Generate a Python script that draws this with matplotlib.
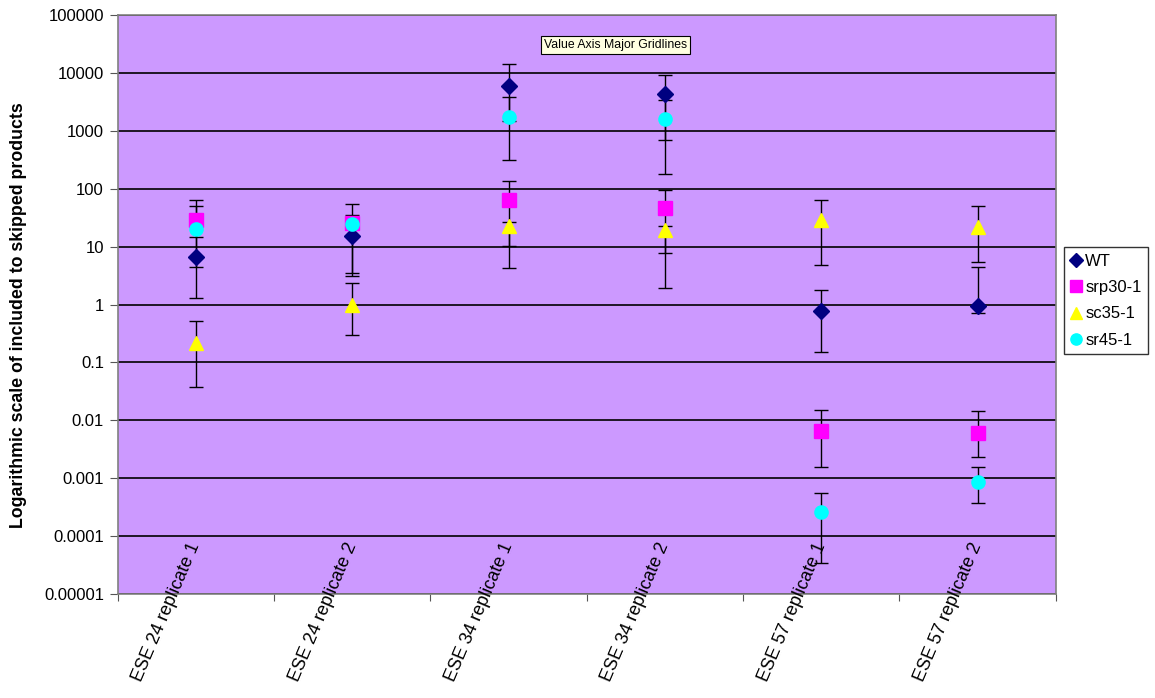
import matplotlib
matplotlib.use('Agg')
import matplotlib.pyplot as plt
import matplotlib.transforms as mtransforms
from matplotlib.lines import Line2D
import numpy as np

plt.rcParams['font.family'] = ['Liberation Sans', 'DejaVu Sans']

# categories on the x axis
categories = ['ESE 24 replicate 1', 'ESE 24 replicate 2',
              'ESE 34 replicate 1', 'ESE 34 replicate 2',
              'ESE 57 replicate 1', 'ESE 57 replicate 2']

# ratio of included to skipped products, with error bar ends (low / high)
wt = [6.5, 15.5, 6000, 4250, 0.76, 0.94]
wt_lo = [1.27, 3.5, 307, 707, 0.152, 0.70]
wt_hi = [63, 55, 14000, 9270, 1.75, 4.48]

srp30 = [29, 26, 63, 46, 0.0066, 0.0061]
srp30_lo = [4.36, 3.1, 10.2, 7.7, 0.00157, 0.00234]
srp30_hi = [50, 35, 137, 95, 0.0152, 0.0146]

sc35 = [0.22, 1.0, 22.5, 19.7, 28.6, 22]
sc35_lo = [0.037, 0.30, 4.24, 1.9, 4.85, 5.4]
sc35_hi = [0.51, 2.37, 27, 23, 63, 51]

sr45 = [20, 25, 1750, 1600, 0.00026, 0.00085]
sr45_lo = [14.9, 22, 1500, 178, 0.0000346, 0.00038]
sr45_hi = [24, 28, 3870, 3380, 0.00056, 0.00157]

y_ticks = [1e-5, 1e-4, 1e-3, 1e-2, 1e-1, 1, 10, 100, 1000, 10000, 100000]
y_tick_labels = ['0.00001', '0.0001', '0.001', '0.01', '0.1', '1', '10',
                 '100', '1000', '10000', '100000']

series = [
    ('WT', wt, wt_lo, wt_hi, 'D', '#000080', 8),
    ('srp30-1', srp30, srp30_lo, srp30_hi, 's', '#FF00FF', 10),
    ('sc35-1', sc35, sc35_lo, sc35_hi, '^', '#FFFF00', 10.5),
    ('sr45-1', sr45, sr45_lo, sr45_hi, 'o', '#00FFFF', 9.5),
]

fig = plt.figure(figsize=(11.55, 6.98), dpi=100)
ax = fig.add_axes([0.102, 0.149, 0.812, 0.8295])
ax.set_facecolor('#CC99FF')

x = np.arange(len(categories))
handles = []
for name, vals, lo, hi, marker, color, ms in series:
    vals = np.array(vals)
    yerr = [vals - np.array(lo), np.array(hi) - vals]
    ax.errorbar(x, vals, yerr=yerr, fmt=marker, color=color, ms=ms,
                mec=color, ecolor='black', elinewidth=1.0, capsize=5,
                capthick=1.0, zorder=3)
    # legend shows only the marker, like the original
    handles.append(Line2D([], [], ls='none', marker=marker, color=color,
                          mec=color, ms=ms * 0.85, label=name))

ax.set_yscale('log')
ax.set_ylim(1e-5, 1e5)
ax.set_yticks(y_ticks)
ax.set_yticklabels(y_tick_labels, fontsize=12)
ax.yaxis.set_minor_locator(matplotlib.ticker.NullLocator())
ax.grid(axis='y', which='major', color='black', linewidth=1.2, zorder=1)
ax.set_axisbelow(True)

ax.set_xlim(-0.5, len(categories) - 0.5)
ax.set_xticks(np.arange(-0.5, len(categories)), minor=False)
ax.set_xticklabels([])
ax.tick_params(axis='x', length=5, color='#555555', direction='out')
ax.tick_params(axis='y', length=6, color='#555555', direction='out', pad=4)

for s in ax.spines.values():
    s.set_color('#808080')
    s.set_linewidth(1.2)

# rotated category labels that poke up into the plot area
trans = mtransforms.blended_transform_factory(ax.transData, ax.transAxes)
for i, lab in enumerate(categories):
    ax.text(i, 0.088, lab, transform=trans, rotation=67,
            rotation_mode='anchor', ha='right', va='center',
            fontsize=13, zorder=5)

fig.text(0.016, 0.549, 'Logarithmic scale of included to skipped products',
         rotation=90, ha='center', va='center', fontsize=12.8,
         fontweight='bold')

leg = fig.legend(handles=handles, loc='upper left',
                 bbox_to_anchor=(0.921, 0.646),
                 fontsize=12, frameon=True, fancybox=False,
                 edgecolor='black', handlelength=0.7, handletextpad=0.2,
                 borderpad=0.4, labelspacing=0.68, borderaxespad=0)
leg.get_frame().set_linewidth(1.0)

ax.text(0.531, 0.948, 'Value Axis Major Gridlines', transform=ax.transAxes,
        fontsize=8.8, ha='center', va='center', zorder=6,
        bbox=dict(boxstyle='square,pad=0.25', facecolor='#FFFFE1',
                  edgecolor='black', linewidth=0.8))

fig.savefig('out.png', dpi=100)
